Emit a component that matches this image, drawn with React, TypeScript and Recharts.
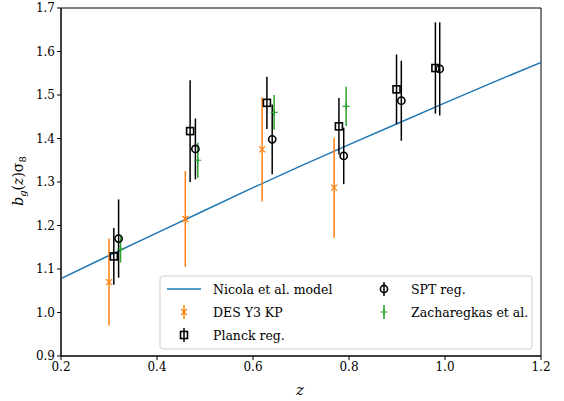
import {
  ComposedChart,
  Line,
  Scatter,
  ErrorBar,
  XAxis,
  YAxis,
  ReferenceArea,
} from 'recharts';

// Nicola et al. model curve
const modelZ = [0.2, 0.3, 0.4, 0.5, 0.6, 0.7, 0.8, 0.9, 1.0, 1.1, 1.2];
const modelB = [1.078, 1.131, 1.183, 1.235, 1.287, 1.337, 1.386, 1.434, 1.482, 1.529, 1.575];

// DES Y3 KP
const desZ = [0.3, 0.459, 0.619, 0.769];
const desB = [1.07, 1.215, 1.375, 1.287];
const desErr = [0.1, 0.11, 0.12, 0.115];

// Planck reg.
const planckZ = [0.31, 0.469, 0.629, 0.779, 0.899, 0.98];
const planckB = [1.129, 1.417, 1.482, 1.428, 1.513, 1.562];
const planckErr = [0.065, 0.117, 0.06, 0.065, 0.08, 0.105];

// SPT reg.
const sptZ = [0.32, 0.48, 0.64, 0.789, 0.909, 0.989];
const sptB = [1.17, 1.376, 1.398, 1.36, 1.487, 1.56];
const sptErr = [0.09, 0.07, 0.08, 0.065, 0.092, 0.107];

// Zacharegkas et al.
const zachZ = [0.324, 0.485, 0.644, 0.794];
const zachB = [1.145, 1.35, 1.46, 1.474];
const zachErr = [0.03, 0.04, 0.04, 0.045];

const xTicks = [0.2, 0.4, 0.6, 0.8, 1.0, 1.2];
const yTicks = [0.9, 1.0, 1.1, 1.2, 1.3, 1.4, 1.5, 1.6, 1.7];

const BLUE = '#1f77b4';
const ORANGE = '#ff7f0e';
const GREEN = '#2ca02c';
const FONT = "'DejaVu Serif', serif";

const zip = (xs: number[], ys: number[], es?: number[]) =>
  xs.map((x, i) => ({ x, y: ys[i], err: es ? es[i] : 0 }));

const modelData = zip(modelZ, modelB);
const desData = zip(desZ, desB, desErr);
const planckData = zip(planckZ, planckB, planckErr);
const sptData = zip(sptZ, sptB, sptErr);
const zachData = zip(zachZ, zachB, zachErr);

const CrossMark = ({ cx, cy }: any) => (
  <path d={`M${cx - 3},${cy - 3}L${cx + 3},${cy + 3}M${cx - 3},${cy + 3}L${cx + 3},${cy - 3}`} stroke={ORANGE} strokeWidth={1.2} />
);
const SquareMark = ({ cx, cy }: any) => (
  <rect x={cx - 3.5} y={cy - 3.5} width={7} height={7} fill="none" stroke="#000" strokeWidth={1.6} />
);
const CircleMark = ({ cx, cy }: any) => (
  <circle cx={cx} cy={cy} r={3.6} fill="none" stroke="#000" strokeWidth={1.6} />
);
const PlusMark = ({ cx, cy }: any) => (
  <path d={`M${cx - 3.5},${cy}L${cx + 3.5},${cy}M${cx},${cy - 3.5}L${cx},${cy + 3.5}`} stroke={GREEN} strokeWidth={1.2} />
);

const tickStyle = { fontFamily: FONT, fontSize: 12, fill: '#000' };

const LegendBox = () => (
  <svg width={374} height={75} style={{ position: 'absolute', left: 159, top: 275 }}>
    <rect x={1} y={1} width={372} height={73} rx={3} fill="rgba(255,255,255,0.85)" stroke="#d0d0d0" />
    <g style={{ fontFamily: FONT, fontSize: 12.5 }} fill="#000">
      <line x1={8} x2={42} y1={14} y2={14} stroke={BLUE} strokeWidth={1.5} />
      <text x={54} y={19}>Nicola et al. model</text>
      <line x1={25} x2={25} y1={30} y2={44} stroke={ORANGE} strokeWidth={1.5} />
      <CrossMark cx={25} cy={37} />
      <text x={54} y={42}>DES Y3 KP</text>
      <line x1={25} x2={25} y1={53} y2={67} stroke="#000" strokeWidth={1.5} />
      <SquareMark cx={25} cy={60} />
      <text x={54} y={65}>Planck reg.</text>
      <line x1={225} x2={225} y1={7} y2={21} stroke="#000" strokeWidth={1.5} />
      <CircleMark cx={225} cy={14} />
      <text x={252} y={19}>SPT reg.</text>
      <line x1={225} x2={225} y1={30} y2={44} stroke={GREEN} strokeWidth={1.5} />
      <PlusMark cx={225} cy={37} />
      <text x={252} y={42}>Zacharegkas et al.</text>
    </g>
  </svg>
);

export default function App() {
  return (
    <div style={{ position: 'absolute', left: 0, top: 0, width: 564, height: 401, background: '#fff', fontFamily: FONT }}>
      <ComposedChart width={564} height={401} margin={{ top: 8, right: 23, bottom: 15, left: 16 }} style={{ fontFamily: FONT }}>
        <XAxis
          type="number"
          dataKey="x"
          domain={[0.2, 1.2]}
          ticks={xTicks}
          allowDataOverflow
          tickFormatter={(v: number) => v.toFixed(1)}
          tick={tickStyle}
          tickSize={4}
          tickMargin={2}
          height={30}
          axisLine={{ stroke: '#000' }}
          tickLine={{ stroke: '#000' }}
        />
        <YAxis
          type="number"
          dataKey="y"
          domain={[0.9, 1.7]}
          ticks={yTicks}
          allowDataOverflow
          tickFormatter={(v: number) => v.toFixed(1)}
          tick={tickStyle}
          tickSize={4}
          tickMargin={2}
          width={45}
          axisLine={{ stroke: '#000' }}
          tickLine={{ stroke: '#000' }}
        />
        <ReferenceArea x1={0.2} x2={1.2} y1={0.9} y2={1.7} fill="none" stroke="#000" strokeWidth={1} ifOverflow="visible" />
        <Line data={modelData} dataKey="y" type="linear" stroke={BLUE} strokeWidth={1.5} dot={false} isAnimationActive={false} />
        <Scatter data={desData} dataKey="y" shape={CrossMark} isAnimationActive={false}>
          <ErrorBar dataKey="err" direction="y" width={0} stroke={ORANGE} strokeWidth={1.5} isAnimationActive={false} />
        </Scatter>
        <Scatter data={planckData} dataKey="y" shape={SquareMark} isAnimationActive={false}>
          <ErrorBar dataKey="err" direction="y" width={0} stroke="#000" strokeWidth={1.5} isAnimationActive={false} />
        </Scatter>
        <Scatter data={sptData} dataKey="y" shape={CircleMark} isAnimationActive={false}>
          <ErrorBar dataKey="err" direction="y" width={0} stroke="#000" strokeWidth={1.5} isAnimationActive={false} />
        </Scatter>
        <Scatter data={zachData} dataKey="y" shape={PlusMark} isAnimationActive={false}>
          <ErrorBar dataKey="err" direction="y" width={0} stroke={GREEN} strokeWidth={1.5} isAnimationActive={false} />
        </Scatter>
        <text x={300} y={395} textAnchor="middle" style={{ fontFamily: FONT, fontSize: 15, fontStyle: 'italic' }}>z</text>
        <text transform="translate(23,181) rotate(-90)" textAnchor="middle" style={{ fontFamily: FONT, fontSize: 14 }}>
          <tspan fontStyle="italic">b</tspan>
          <tspan fontStyle="italic" fontSize={10} dy={3}>g</tspan>
          <tspan dy={-3}>(</tspan>
          <tspan fontStyle="italic">z</tspan>
          <tspan>)σ</tspan>
          <tspan fontSize={10} dy={3}>8</tspan>
        </text>
      </ComposedChart>
      <LegendBox />
    </div>
  );
}
